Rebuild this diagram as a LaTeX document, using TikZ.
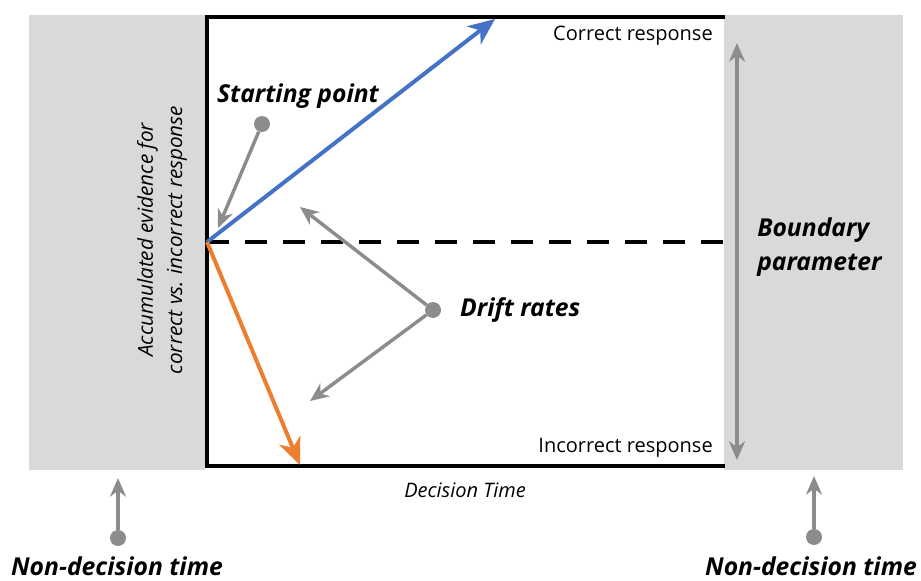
\documentclass[tikz,border=0pt]{standalone}
\usepackage{fontspec}
\setmainfont{Open Sans}
\usetikzlibrary{arrows.meta,positioning}
\definecolor{upcol}{HTML}{4472C4}
\definecolor{downcol}{HTML}{ED7D31}
\definecolor{pointer}{HTML}{8C8C8C}
\definecolor{bandcol}{HTML}{D9D9D9}

\begin{document}
\begin{tikzpicture}[
  x=0.75pt,y=-0.75pt,
  lab/.style={font=\fontsize{18.5}{26}\selectfont\bfseries\itshape,align=left,inner sep=0pt},
  note/.style={font=\fontsize{15}{18}\selectfont,inner sep=0pt},
  dot/.style={circle,fill=pointer,inner sep=0pt,minimum size=12pt},
  gtip/.tip={Stealth[length=14pt,width=12pt,inset=4.5pt]},
  garr/.style={-gtip,pointer,line width=2.6pt},
  carr/.style={-{Stealth[length=20pt,width=17pt,inset=6pt]},line width=3pt,#1},
]
  \useasboundingbox (0,0) rectangle (921,581);

  % non-decision bands
  \fill[bandcol] (29,15) rectangle (205,470);
  \fill[bandcol] (724,15) rectangle (903,470);

  % decision box
  \draw[line width=3pt] (725,17) -- (207,17) -- (207,466) -- (725,466);
  \coordinate (orig) at (207,242);
  \coordinate (mid) at (725,242);
  \draw[line width=3pt,dash pattern=on 16.5pt off 12pt] (orig) -- (mid);

  \node[note,anchor=east] (cor) at (713,36) {Correct response};
  \node[note,anchor=east] (inc) at (713,448) {Incorrect response};
  \node[note,font=\fontsize{15}{18}\selectfont\itshape] (dt) at (465,490) {Decision Time};
  \node[note,font=\fontsize{15.5}{22}\selectfont\itshape,rotate=90,align=center] (ylab) at (162,240)
    {Accumulated evidence for\\correct vs. incorrect response};

  % drift paths
  \coordinate (upend) at (495,19);
  \coordinate (downend) at (300,465);
  \draw[carr=upcol] (orig) -- (upend);
  \draw[carr=downcol] (orig) -- (downend);

  % starting point
  \node[dot] (sp) at (262,124) {};
  \coordinate (sptip) at (218,228);
  \draw[garr] (sp) -- (sptip);
  \node[lab] (splab) at (298,96) {Starting point};

  % drift rates
  \node[dot] (dr) at (433,310) {};
  \coordinate (drup) at (300,207);
  \coordinate (drdown) at (310,401);
  \draw[garr] (dr) -- (drup);
  \draw[garr] (dr) -- (drdown);
  \node[lab,right=14pt of dr] (drlab) {Drift rates};

  % boundary
  \coordinate (btop) at (737,43);
  \coordinate (bbot) at (737,460);
  \draw[garr,gtip-gtip] (btop) -- (bbot);
  \node[lab,anchor=west] (blab) at (757,247) {Boundary\\parameter};

  % non-decision time
  \node[dot] (ndl) at (118,538) {};
  \coordinate (ndltip) at (118,478);
  \draw[garr] (ndl) -- (ndltip);
  \node[lab] (ndllab) at (117,566) {Non-decision time};
  \node[dot] (ndr) at (814,537) {};
  \coordinate (ndrtip) at (814,476);
  \draw[garr] (ndr) -- (ndrtip);
  \node[lab] (ndrlab) at (811,566) {Non-decision time};
\end{tikzpicture}
\end{document}
